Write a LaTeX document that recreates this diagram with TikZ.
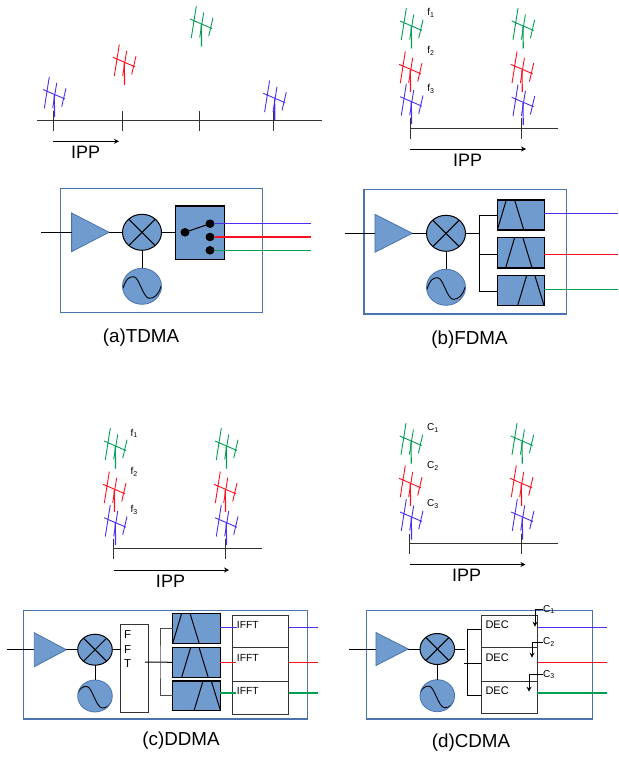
\documentclass[tikz,border=0pt]{standalone}
\usepackage{fontspec}
\setmainfont{Liberation Sans}
\usetikzlibrary{shapes.geometric,arrows.meta,calc}
\definecolor{bfill}{HTML}{6F9BCF}
\definecolor{bline}{HTML}{4A74B0}
\definecolor{cblue}{HTML}{4B2FF0}
\definecolor{cred}{HTML}{FF1020}
\definecolor{cgreen}{HTML}{00A050}
\newcommand{\filterlines}[2]{\draw[black,line width=1pt]
  ($(#1.south west)+(#2,0)$)--($(#1.north west)+(#2+9,0)$)
  ($(#1.north west)+(#2+17.3,0)$)--($(#1.south west)+(#2+26.5,0)$);}
\tikzset{
  ant/.pic={
    \draw[line width=0.9pt] (-11,-5)--(11,4.5) (-4.7,-17.8)--(-9.7,13.8) (2.7,-11.5)--(-1.3,13.5) (12,-6.2)--(7.7,12.2);
    \draw[line width=1.2pt] (0.3,0.5)--(0.5,22.5);
  },
  axisline/.style={line width=1pt,black!80},
  ipparrow/.style={line width=1pt,black,-{Stealth[length=5pt,width=5pt]}},
  ipptext/.style={inner sep=0pt,font=\fontsize{18}{20}\selectfont},
  flabel/.style={inner sep=0pt,font=\fontsize{10}{12}\selectfont},
  caption/.style={inner sep=0pt,font=\fontsize{18.8}{21}\selectfont},
  frame/.style={draw=bline,line width=1.1pt,fill=none,inner sep=0pt,outer sep=0pt,anchor=north west},
  amp/.style={shape=isosceles triangle,isosceles triangle stretches,draw=bline,fill=bfill,line width=0.8pt,inner sep=0pt,outer sep=0pt,anchor=apex},
  mixer/.style={shape=ellipse,draw=black,fill=bfill,line width=1pt,inner sep=0pt,outer sep=0pt,
    path picture={\draw[black,line width=1pt]
      ($(path picture bounding box.center)+(-20,-20)$)--($(path picture bounding box.center)+(20,20)$)
      ($(path picture bounding box.center)+(-20,20)$)--($(path picture bounding box.center)+(20,-20)$);}},
  osc/.style={shape=ellipse,draw=bline,fill=bfill,line width=0.8pt,inner sep=0pt,outer sep=0pt,
    path picture={\draw[black,line width=0.9pt,shift={(path picture bounding box.center)},scale=#1]
      (-19,2) .. controls (-16,-8) and (-12,-10) .. (-8,-9.5) .. controls (-3,-9) and (1,11) .. (7,12) .. controls (12,12.5) and (17,8) .. (19,0);}},
  sline/.style={line width=1pt,black},
  sbox/.style={draw=black,fill=bfill,line width=1.1pt,inner sep=0pt,outer sep=0pt,anchor=north west},
  wbox/.style={draw=black!80,fill=white,line width=1pt,inner sep=0pt,outer sep=0pt,anchor=north west},
  dot/.style={shape=ellipse,fill=black,inner sep=0pt,outer sep=0pt,minimum width=9pt,minimum height=8.5pt},
  btext/.style={inner sep=0pt,anchor=west,font=\fontsize{10.3}{12}\selectfont},
  outb/.style={line width=1.1pt,cblue},
  outr/.style={line width=1.1pt,cred},
  outg/.style={line width=1.1pt,cgreen},
}
\begin{document}
\begin{tikzpicture}[x=1pt,y=-1pt]
\useasboundingbox (0,0) rectangle (618,757);
% ---------- TDMA timeline
\pic[cblue] at (54,94.5) {ant};
\pic[cred] at (124,62.3) {ant};
\pic[cgreen] at (201,24) {ant};
\pic[cblue] at (274.3,98.3) {ant};
\coordinate (ta1) at (37,120.7); \coordinate (ta2) at (322,120.7);
\draw[axisline] (ta1)--(ta2);
\foreach \x in {53,122.5,199.5,273.3} \draw[axisline] (\x,111)--(\x,130.7);
\coordinate (tb1) at (53,141.3); \coordinate (tb2) at (119,141.3);
\draw[ipparrow] (tb1)--(tb2);
\node[ipptext] (tipp) at (85.6,152.7) {IPP};
% ---------- FDMA timeline
\foreach \x/\y/\c in {411/26/cgreen,410/69.3/cred,411/101.7/cblue,522.7/26/cgreen,521.7/69.3/cred,522.7/102.3/cblue}
  \pic[\c] at (\x,\y) {ant};
\coordinate (fa1) at (410,128.3); \coordinate (fa2) at (558,128.3);
\draw[axisline] (fa1)--(fa2);
\foreach \x in {410,521.7} \draw[axisline] (\x,118.5)--(\x,138.7);
\coordinate (fb1) at (410,149); \coordinate (fb2) at (526,149);
\draw[ipparrow] (fb1)--(fb2);
\node[ipptext] (fipp) at (467.5,160) {IPP};
\node[flabel] (ff1) at (431,12.7) {f\textsubscript{1}};
\node[flabel] (ff2) at (431,51) {f\textsubscript{2}};
\node[flabel] (ff3) at (431,89) {f\textsubscript{3}};
% ---------- DDMA timeline
\foreach \x/\y/\c in {115/446/cgreen,114/489.3/cred,115/522.7/cblue,226/446/cgreen,225/489.3/cred,226/522.7/cblue}
  \pic[\c] at (\x,\y) {ant};
\coordinate (da1) at (113.5,548.7); \coordinate (da2) at (262,548.7);
\draw[axisline] (da1)--(da2);
\foreach \x in {113.5,225} \draw[axisline] (\x,539)--(\x,559);
\coordinate (db1) at (113.5,570); \coordinate (db2) at (229,570);
\draw[ipparrow] (db1)--(db2);
\node[ipptext] (dipp) at (170.5,581) {IPP};
\node[flabel] (df1) at (134.3,433.3) {f\textsubscript{1}};
\node[flabel] (df2) at (134.3,472) {f\textsubscript{2}};
\node[flabel] (df3) at (134.3,510) {f\textsubscript{3}};
% ---------- CDMA timeline
\foreach \x/\y/\c in {410.7/441/cgreen,410/483.3/cred,411/517/cblue,521.7/441/cgreen,521/483.3/cred,522/517/cblue}
  \pic[\c] at (\x,\y) {ant};
\coordinate (ca1) at (409.5,543.3); \coordinate (ca2) at (558,543.3);
\draw[axisline] (ca1)--(ca2);
\foreach \x in {409.5,521} \draw[axisline] (\x,534)--(\x,553.5);
\coordinate (cb1) at (409.5,564.5); \coordinate (cb2) at (525.5,564.5);
\draw[ipparrow] (cb1)--(cb2);
\node[ipptext] (cipp) at (466.5,575) {IPP};
\node[flabel] (cc1) at (433,428) {C\textsubscript{1}};
\node[flabel] (cc2) at (433,466) {C\textsubscript{2}};
\node[flabel] (cc3) at (433,504) {C\textsubscript{3}};
% ---------- TDMA receiver
\node[frame,minimum width=202,minimum height=124.4] (aframe) at (60.3,188.3) {};
\coordinate (ain) at (41,232.3);
\node[amp,minimum width=38.7,minimum height=37.4] (aamp) at (109,232.3) {};
\node[mixer,minimum width=39,minimum height=36] (amix) at (142,232.3) {};
\node[osc=1,minimum width=39,minimum height=36] (aosc) at (142,286.3) {};
\node[sbox,minimum width=48.6,minimum height=53.3] (asw) at (175.7,206) {};
\draw[sline] (ain)--(aamp.lower side);
\draw[sline] (aamp.apex)--(amix.west);
\draw[sline] (amix.south)--(aosc.north);
\draw[sline] (amix.east)--(amix.east -| asw.west);
\node[dot] (ad0) at (185,232.3) {};
\node[dot] (ad1) at (210,223.7) {};
\node[dot] (ad2) at (210,237) {};
\node[dot] (ad3) at (210,250.3) {};
\draw[sline] (ad0)--(ad1);
\coordinate (ao1) at (310.7,223.7); \coordinate (ao2) at (310.7,237); \coordinate (ao3) at (310.7,250.3);
\draw[outb] (ad1.east)--(ao1);
\draw[outr] (ad2.east)--(ao2);
\draw[outg] (ad3.east)--(ao3);
\node[caption] (acap) at (141,338) {(a)TDMA};
% ---------- FDMA receiver
\node[frame,minimum width=202.7,minimum height=124.7] (bframe) at (364,189.3) {};
\coordinate (bin) at (344.7,233.3);
\node[amp,minimum width=38,minimum height=37.4] (bamp) at (412.3,233.3) {};
\node[mixer,minimum width=39,minimum height=36] (bmix) at (446,233.3) {};
\node[osc=1,minimum width=39,minimum height=36] (bosc) at (446,287.3) {};
\coordinate (bj) at (479.7,233.3);
\node[sbox,minimum width=47,minimum height=30] (bf1) at (497.3,200) {};
\node[sbox,minimum width=47,minimum height=30.3] (bf2) at (497.3,237.7) {};
\node[sbox,minimum width=47,minimum height=30] (bf3) at (497.3,275.7) {};
\filterlines{bf1}{0}
\filterlines{bf2}{8.3}
\filterlines{bf3}{20.3}
\draw[sline] (bin)--(bamp.lower side);
\draw[sline] (bamp.apex)--(bmix.west);
\draw[sline] (bmix.south)--(bosc.north);
\draw[sline] (bmix.east)--(bj);
\draw[sline] ($(bf1.north west)!0.53!(bf1.south west)$) -| (bj) |- ($(bf3.north west)!0.53!(bf3.south west)$);
\draw[sline] ($(bf2.north west)!0.56!(bf2.south west)$) -- ++(-17.6,0);
\coordinate (bo1) at (618,213.7); \coordinate (bo2) at (618,254.3); \coordinate (bo3) at (618,289.3);
\draw[outb] (bf1.east |- bo1)--(bo1);
\draw[outr] (bf2.east |- bo2)--(bo2);
\draw[outg] (bf3.east |- bo3)--(bo3);
\node[caption] (bcap) at (469.5,340) {(b)FDMA};
% ---------- DDMA receiver
\node[frame,minimum width=284,minimum height=108.3] (cframe) at (23.7,610.7) {};
\coordinate (cin) at (7,649.7);
\node[amp,minimum width=34,minimum height=32] (camp) at (66.3,649.7) {};
\node[mixer,minimum width=34.6,minimum height=31] (cmix) at (95,649.7) {};
\node[osc=0.88,minimum width=34.6,minimum height=32] (cosc) at (95,696) {};
\node[wbox,minimum width=27.3,minimum height=87.7] (cfft) at (120.7,624.3) {};
\node[btext,font=\fontsize{11.5}{12}\selectfont] (cF1) at (124,635) {F};
\node[btext,font=\fontsize{11.5}{12}\selectfont] (cF2) at (124,650) {F};
\node[btext,font=\fontsize{11.5}{12}\selectfont] (cF3) at (124,663.7) {T};
\draw[sline] (cin)--(camp.lower side);
\draw[sline] (camp.apex)--(cmix.west);
\draw[sline] (cmix.south)--(cosc.north);
\draw[sline] (cmix.east)--(cmix.east -| cfft.west);
\coordinate (cj) at (145,662);
\node[sbox,minimum width=47.6,minimum height=30] (cf1) at (172.7,613.3) {};
\node[sbox,minimum width=47.6,minimum height=30] (cf2) at (172.7,647.3) {};
\node[sbox,minimum width=47.6,minimum height=29.7] (cf3) at (172.7,681) {};
\filterlines{cf1}{0}
\filterlines{cf2}{9}
\filterlines{cf3}{21.3}
\draw[sline] (cj)--(cf2.west);
\coordinate (cb) at (160,662);
\draw[sline,black!70] (cf1.west) -| (cb) |- (cf3.west);
\node[wbox,minimum width=56,minimum height=32] (ci1) at (232.7,615.7) {};
\node[wbox,minimum width=56,minimum height=33.3] (ci2) at (232.7,647.7) {};
\node[wbox,minimum width=56,minimum height=33] (ci3) at (232.7,681) {};
\coordinate (cl1) at (237.3,627.3); \coordinate (cl2) at (236,662.7); \coordinate (cl3) at (236,693);
\draw[outb] (cf1.east |- cl1)--(cl1);
\draw[outr] (cf2.east |- cl2)--(cl2);
\draw[outg] (cf3.east |- cl3)--(cl3);
\node[btext] (cT1) at (236.7,625) {IFFT};
\node[btext] (cT2) at (236.7,658) {IFFT};
\node[btext] (cT3) at (236.7,691) {IFFT};
\coordinate (co1) at (318,627.3); \coordinate (co2) at (318,662.7); \coordinate (co3) at (318,693);
\draw[outb] (ci1.east |- co1)--(co1);
\draw[outr] (ci2.east |- co2)--(co2);
\draw[outg] (ci3.east |- co3)--(co3);
\node[caption] (ccap) at (181,741) {(c)DDMA};
% ---------- CDMA receiver
\node[frame,minimum width=226.4,minimum height=108.7] (dframe) at (366.3,610.3) {};
\coordinate (din) at (349.3,649);
\node[amp,minimum width=33,minimum height=32.4] (damp) at (408.3,649) {};
\node[mixer,minimum width=34.6,minimum height=31] (dmix) at (437.3,649) {};
\node[osc=0.88,minimum width=34.6,minimum height=32] (dosc) at (437.3,695.7) {};
\draw[sline] (din)--(damp.lower side);
\draw[sline] (damp.apex)--(dmix.west);
\draw[sline] (dmix.south)--(dosc.north);
\coordinate (dj) at (465.3,649);
\draw[sline] (dmix.east)--(dj);
\node[wbox,minimum width=55.6,minimum height=32] (dd1) at (481.7,615.7) {};
\node[wbox,minimum width=55.6,minimum height=33.3] (dd2) at (481.7,647.7) {};
\node[wbox,minimum width=55.6,minimum height=32.7] (dd3) at (481.7,681) {};
\coordinate (dt) at (467.3,629.3); \coordinate (dm) at (464.3,663.3); \coordinate (db) at (467.3,695);
\draw[sline] (dt -| dd1.west) -- (dt) -- (db) -- (db -| dd3.west);
\draw[sline] (dm)--(dm -| dd2.west);
\node[btext,font=\fontsize{11}{12}\selectfont] (dT1) at (485.3,624.7) {DEC};
\node[btext,font=\fontsize{11}{12}\selectfont] (dT2) at (485.3,657.7) {DEC};
\node[btext,font=\fontsize{11}{12}\selectfont] (dT3) at (485.3,691) {DEC};
\coordinate (do1) at (607.3,627.3); \coordinate (do2) at (607.3,662.7); \coordinate (do3) at (607.3,693);
\draw[outb] (dd1.east |- do1)--(do1);
\draw[outr] (dd2.east |- do2)--(do2);
\draw[outg] (dd3.east |- do3)--(do3);
\node[flabel] (dc1) at (549,609.3) {C\textsubscript{1}};
\node[flabel] (dc2) at (549,642) {C\textsubscript{2}};
\node[flabel] (dc3) at (549,674.5) {C\textsubscript{3}};
\coordinate (dh1) at (535,626.7); \coordinate (dh2) at (532,657.7); \coordinate (dh3) at (529,691.7);
\draw[ipparrow] (dc1.west) -| (dh1);
\draw[ipparrow] (dc2.west) -| (dh2);
\draw[ipparrow] (dc3.west) -| (dh3);
\node[caption] (dcap) at (471,743) {(d)CDMA};
\end{tikzpicture}
\end{document}
